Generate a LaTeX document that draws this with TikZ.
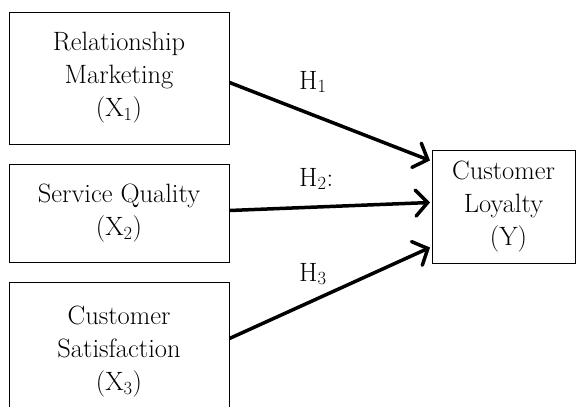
\documentclass[tikz,border=0pt]{standalone}
\usetikzlibrary{arrows.meta,calc}
\begin{document}
\begin{tikzpicture}[x=1pt,y=-1pt,
  varbox/.style={draw=black,line width=1pt,rectangle,inner sep=0pt,align=center,
    font=\fontsize{26.5}{33}\selectfont},
  hyparrow/.style={line width=3.5pt,-{Straight Barb[length=12pt,width=26pt,line cap=round]}},
  hyplabel/.style={anchor=base west,inner sep=0pt,font=\fontsize{26.5}{33}\selectfont}]
\useasboundingbox (0,0) rectangle (576,407);
\clip (0,0) rectangle (576,407);
\node[varbox,minimum width=220pt,minimum height=132pt] (b1) at (119,78)
  {Relationship\\Marketing\\(X\textsubscript{1})};
\node[varbox,minimum width=220pt,minimum height=98pt] (b2) at (119,213)
  {Service Quality\\(X\textsubscript{2})};
\node[varbox,minimum width=220pt,minimum height=140pt] (b3) at (119,352)
  {Customer\\Satisfaction\\(X\textsubscript{3})};
\node[varbox,minimum width=143pt,minimum height=113pt] (y) at (503.5,206.5)
  {Customer\\Loyalty\\\hspace{10pt}(Y)};
\coordinate (s1) at ($(b1.north east)+(0,71)$);
\coordinate (s2) at ($(b2.north east)+(0,47)$);
\coordinate (s3) at ($(b3.north east)+(0,57)$);
\coordinate (t1) at ($(y.north west)+(-1.5,11)$);
\coordinate (t2) at ($(y.north west)+(-1.5,53)$);
\coordinate (t3) at ($(y.north west)+(-1.5,98)$);
\draw[hyparrow] (s1) -- (t1);
\draw[hyparrow] (s2) -- (t2);
\draw[hyparrow] (s3) -- (t3);
\node[hyplabel] (h1) at (299,89) {H\textsubscript{1}};
\node[hyplabel] (h2) at (299,186) {H\textsubscript{2}:};
\node[hyplabel] (h3) at (299,281) {H\textsubscript{3}};
\end{tikzpicture}
\end{document}
